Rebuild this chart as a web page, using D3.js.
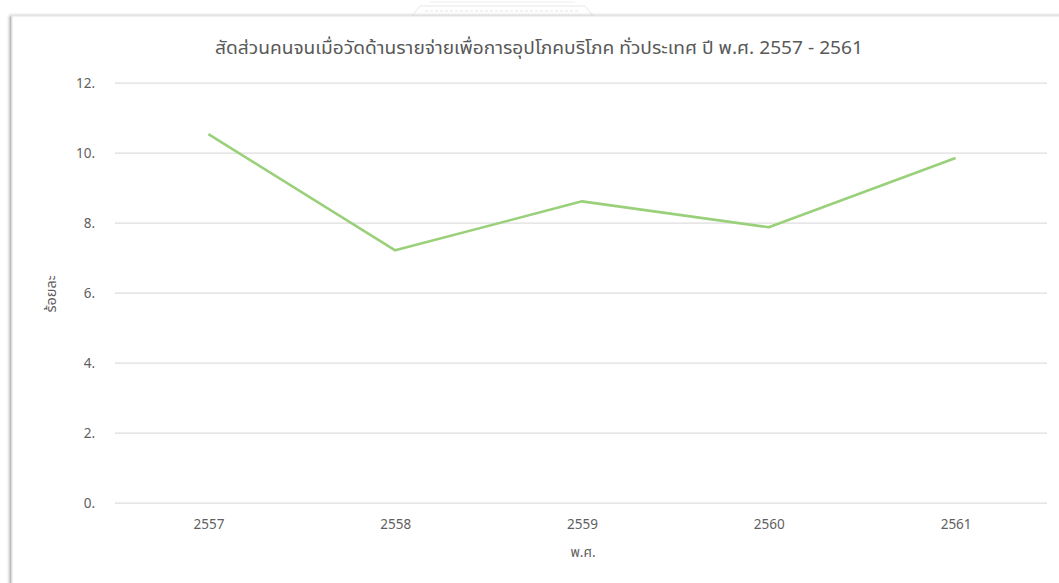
<!DOCTYPE html>
<html><head><meta charset="utf-8">
<script src="https://cdn.jsdelivr.net/npm/d3@7"></script>
<style>
html,body{margin:0;padding:0;background:#fff;}
svg{display:block;}
text{font-family:"Noto Sans Thai","Tahoma","Noto Sans","DejaVu Sans",sans-serif;}
</style></head>
<body>
<script>
const years = ["2557","2558","2559","2560","2561"];
const values = [10.53, 7.21, 8.61, 7.87, 9.85];
const yTicks = [0, 2, 4, 6, 8, 10, 12];
const yTickLabels = ["0.", "2.", "4.", "6.", "8.", "10.", "12."];
const title = "สัดส่วนคนจนเมื่อวัดด้านรายจ่ายเพื่อการอุปโภคบริโภค ทั่วประเทศ ปี พ.ศ. 2557 - 2561";
const xTitle = "พ.ศ.";
const yTitle = "ร้อยละ";

const W = 1059, H = 583;
const svg = d3.select("body").append("svg").attr("width", W).attr("height", H);

// faint watermark at top
const wm = svg.append("g").attr("opacity", 0.35);
wm.append("path").attr("d", "M412,16 L420,6 L585,6 L593,16 Z").attr("fill", "none").attr("stroke", "#bbb");
wm.append("line").attr("x1", 425).attr("x2", 580).attr("y1", 11).attr("y2", 11).attr("stroke", "#bbb").attr("stroke-dasharray", "3,2");
wm.append("line").attr("x1", 430).attr("x2", 575).attr("y1", 2).attr("y2", 2).attr("stroke", "#ccc");

// frame with shadow
const defs = svg.append("defs");
const f = defs.append("filter").attr("id", "sh").attr("x", "-5%").attr("y", "-5%").attr("width", "110%").attr("height", "110%");
f.append("feDropShadow").attr("dx", -2).attr("dy", 0).attr("stdDeviation", 1.5).attr("flood-color", "#000").attr("flood-opacity", 0.35);
svg.append("rect").attr("x", 12).attr("y", 16).attr("width", 1060).attr("height", 600)
  .attr("fill", "#fff").attr("stroke", "#e4e4e4").attr("filter", "url(#sh)");

const x = d3.scalePoint().domain(years).range([115, 1049]).padding(0.5);
const y = d3.scaleLinear().domain([0, 12]).range([502.7, 82.7]);

// gridlines
const yAxis = d3.axisLeft(y).tickValues(yTicks).tickSize(-(1047 - 115))
  .tickFormat((d, i) => yTickLabels[i]).tickPadding(20);
const gy = svg.append("g").attr("transform", "translate(115,0)").call(yAxis);
gy.select(".domain").remove();
gy.selectAll(".tick line").attr("stroke", "#dedede").attr("stroke-width", 1.2);
gy.selectAll(".tick text").attr("fill", "#5f5f5f").attr("font-size", 13.5);

const xAxis = d3.axisBottom(x).tickSize(0).tickPadding(13);
const gx = svg.append("g").attr("transform", "translate(0,506)").call(xAxis);
gx.select(".domain").remove();
gx.selectAll(".tick text").attr("fill", "#5f5f5f").attr("font-size", 13.5);

// line
const line = d3.line().x((d, i) => x(years[i])).y(d => y(d));
svg.append("path").datum(values).attr("d", line)
  .attr("fill", "none").attr("stroke", "#9bd07a").attr("stroke-width", 2.6)
  .attr("stroke-linejoin", "round");

// titles
svg.append("text").attr("x", 215).attr("y", 54).attr("text-anchor", "start")
  .attr("textLength", 648).attr("lengthAdjust", "spacingAndGlyphs")
  .attr("fill", "#595959").attr("font-size", 17.5).text(title);
svg.append("text").attr("x", 583).attr("y", 557).attr("text-anchor", "middle")
  .attr("fill", "#5f5f5f").attr("font-size", 13.5).text(xTitle);
svg.append("text").attr("transform", "translate(56,294) rotate(-90)").attr("text-anchor", "middle")
  .attr("fill", "#5f5f5f").attr("font-size", 14.5).text(yTitle);
</script>
</body></html>
